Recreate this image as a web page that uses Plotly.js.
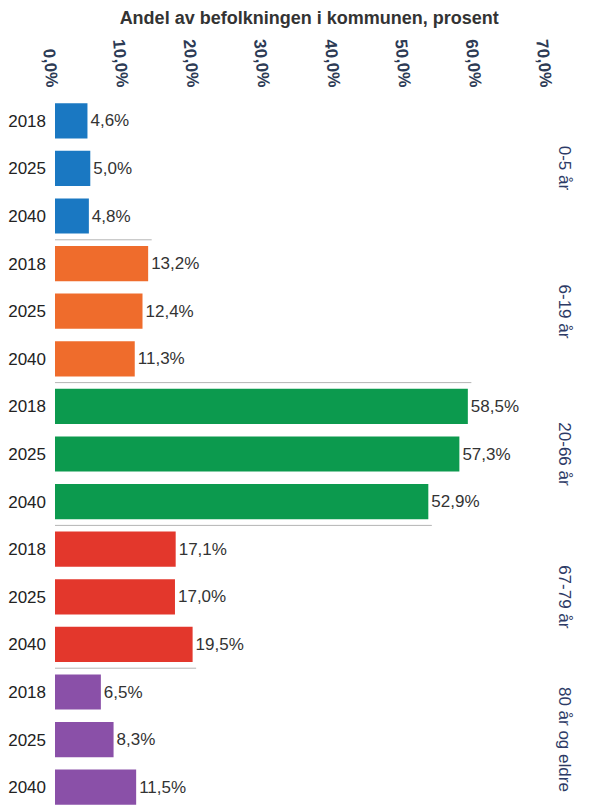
<!DOCTYPE html>
<html>
<head>
<meta charset="utf-8">
<script src="https://cdn.plot.ly/plotly-3.0.1.min.js"></script>
<style>html,body{margin:0;padding:0;background:#fff;}#chart{width:590px;height:811px;}</style>
</head>
<body>
<div id="chart"></div>
<script>
const groups = ["0-5 år", "6-19 år", "20-66 år", "67-79 år", "80 år og eldre"];
const years = ["2018", "2025", "2040"];
const values05 = [4.6, 5.0, 4.8];
const values619 = [13.2, 12.4, 11.3];
const values2066 = [58.5, 57.3, 52.9];
const values6779 = [17.1, 17.0, 19.5];
const values80 = [6.5, 8.3, 11.5];
const xTicks = [0, 10, 20, 30, 40, 50, 60, 70];
const xTickText = xTicks.map(v => v.toFixed(1).replace(".", ",") + "%");
const colors = ["#1a78c2", "#ef6c2c", "#0c9a4e", "#e3372c", "#8a50a8"];
const series = [values05, values619, values2066, values6779, values80];
const FONT = "Liberation Sans, Arial, sans-serif";

const traces = [];
const tickvals = [], ticktext = [];
series.forEach((vals, g) => {
  const ys = vals.map((v, i) => g * years.length + i);
  ys.forEach((y, i) => { tickvals.push(y); ticktext.push(years[i]); });
  traces.push({
    type: "bar", orientation: "h",
    x: vals, y: ys,
    width: 0.74,
    marker: {color: colors[g], line: {width: 0}},
    texttemplate: "%{x:.1f}%", textposition: "outside",
    textfont: {family: FONT, size: 17, color: "#333"},
    cliponaxis: false,
    hoverinfo: "skip", showlegend: false
  });
});

const shapes = [];
for (let g = 1; g < series.length; g++) {
  const m = Math.max(series[g - 1][2], series[g][0]);
  shapes.push({type: "line", xref: "x", yref: "y",
    x0: -0.5, x1: m + 0.5, y0: g * 3 - 0.5, y1: g * 3 - 0.5,
    line: {color: "#b5b5b5", width: 1}});
}

const annotations = groups.map((name, g) => ({
  text: name, xref: "paper", yref: "y", x: 1.055, y: g * 3 + 1,
  showarrow: false, textangle: 90,
  font: {family: FONT, size: 17, color: "#2d3b66"}
}));

const layout = {
  width: 590, height: 811,
  margin: {l: 55, r: 41, t: 97, b: 0},
  paper_bgcolor: "#fff", plot_bgcolor: "#fff",
  separators: ", ",
  title: {text: "Andel av befolkningen i kommunen, prosent", x: 0.524, xanchor: "center", y: 0.986, yanchor: "top",
    font: {family: FONT, size: 18, color: "#333", weight: "bold"}},
  xaxis: {side: "top", range: [0, 70], tickmode: "array", tickvals: xTicks, ticktext: xTickText,
    tickangle: 85, showgrid: false, zeroline: false, showline: false, ticks: "", ticklabelstandoff: -3,
    tickfont: {family: FONT, size: 17, color: "#2d3b55", weight: "bold"}},
  yaxis: {range: [14.5, -0.5], tickvals: tickvals, ticktext: ticktext, showgrid: false,
    zeroline: false, showline: false, ticks: "", ticklabelstandoff: 8,
    tickfont: {family: FONT, size: 17, color: "#222"}},
  shapes: shapes,
  annotations: annotations
};

Plotly.newPlot("chart", traces, layout, {displayModeBar: false, staticPlot: true});
</script>
</body>
</html>
